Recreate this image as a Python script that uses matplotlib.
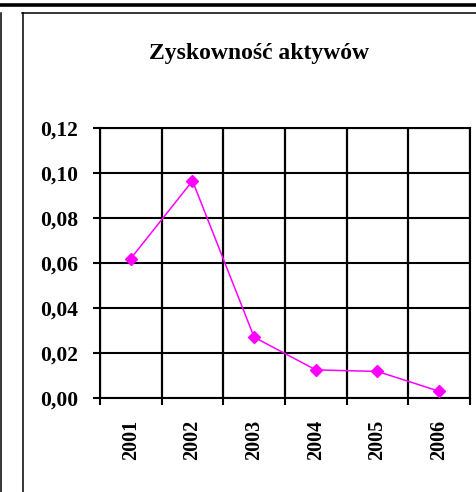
import numpy as np
import matplotlib
matplotlib.use("Agg")
import matplotlib.pyplot as plt
from matplotlib.lines import Line2D

# dane z wykresu
years = ["2001", "2002", "2003", "2004", "2005", "2006"]
roa = [0.062, 0.0965, 0.027, 0.0125, 0.0118, 0.003]
y_ticks = [0.00, 0.02, 0.04, 0.06, 0.08, 0.10, 0.12]
y_labels = ["0,00", "0,02", "0,04", "0,06", "0,08", "0,10", "0,12"]

W, H = 477, 492
plt.rcParams["font.family"] = ["Liberation Serif", "DejaVu Serif"]
plt.rcParams["font.weight"] = "bold"

fig = plt.figure(figsize=(W / 100, H / 100), dpi=100)
ax = fig.add_axes([100 / W, 1 - 398 / H, 370 / W, 270 / H])

x = np.arange(len(years))
ax.plot(x, roa, color="#FF00FF", lw=1.1, marker="D", ms=6.2,
        markerfacecolor="#FF00FF", markeredgecolor="#FF00FF", zorder=3)

ax.set_xlim(-0.5, len(years) - 0.5)
ax.set_ylim(0, 0.12)
ax.set_yticks(y_ticks)
ax.set_yticklabels(y_labels, fontsize=15.5, fontweight="bold")
ax.set_xticks(x)
ax.set_xticklabels(years, rotation=90, fontsize=14.5, fontweight="bold")
ax.set_xticks(np.arange(-0.5, len(years)), minor=True)

ax.tick_params(axis="x", which="major", length=0, pad=16)
ax.tick_params(axis="x", which="minor", length=5, width=1.5, color="black")
ax.tick_params(axis="y", length=5, width=1.5, pad=11, color="black")

ax.grid(True, axis="y", which="major", color="black", lw=1.5)
ax.grid(True, axis="x", which="minor", color="black", lw=1.6)
for s in ax.spines.values():
    s.set_linewidth(1.5)
    s.set_color("black")

fig.text(259 / W, 1 - 53 / H, "Zyskowność aktywów", ha="center", va="center",
         fontsize=17, fontweight="bold")

# ramki wokół wykresu
def px_line(x0, y0, x1, y1, lw):
    fig.add_artist(Line2D([x0 / W, x1 / W], [1 - y0 / H, 1 - y1 / H],
                          transform=fig.transFigure, color="black", lw=lw))

px_line(0, 5, W, 5, 2.6)
px_line(22, 13, W, 13, 1.1)
px_line(1, 13, 1, H, 1.1)
px_line(22.5, 13, 22.5, H, 1.1)

fig.savefig("out.png", dpi=100)
